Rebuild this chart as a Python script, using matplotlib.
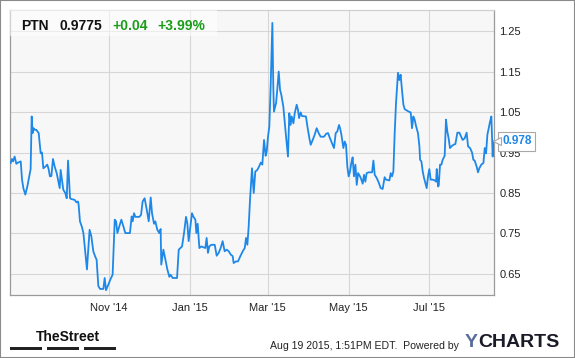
import matplotlib.pyplot as plt
import matplotlib.transforms as mtransforms
from matplotlib.patches import Rectangle
import pandas as pd

# PTN daily close (days after 2014-08-18)
start = pd.Timestamp("2014-08-18")

days = [
    0.5, 1.5, 2.3, 3.5, 4.8, 6.0, 8.1, 9.1, 10.1, 11.6, 13.1, 14.6, 15.6, 16.4, 17.1, 17.9,
    18.7, 19.9, 21.7, 23.2, 24.2, 25.2, 26.7, 28.2, 29.2, 30.2, 31.3, 32.5, 33.8, 35.3, 36.3,
    37.6, 38.3, 39.3, 40.3, 41.8, 42.9, 43.9, 45.4, 46.4, 48.9, 50.2, 51.4, 51.9, 52.9, 54.4,
    55.5, 56.5, 58.2, 59.0, 60.2, 61.5,
    63.0, 64.3, 65.5, 66.8, 68.1, 70.6, 71.6, 72.6, 74.4, 76.1, 77.6, 79.2, 80.2, 81.2, 82.7,
    84.2, 85.7, 87.2, 90.7, 92.0, 92.8, 93.8, 94.8, 97.8, 99.1, 100.3, 101.8, 103.4, 104.9,
    106.4, 107.4, 108.9, 109.9, 111.4, 112.9, 113.9, 114.4, 116.0, 117.5, 119.0, 120.5, 121.5,
    123.0, 124.8,
    126.3, 127.6, 128.8, 130.1, 131.6, 133.1, 134.1, 135.1, 136.4, 137.6, 138.6, 140.2, 140.9,
    141.9, 143.2, 144.7, 147.7, 148.7, 149.7, 150.7, 152.3, 154.8, 156.3, 157.8, 159.3, 160.8,
    162.3, 163.9, 165.4, 166.9, 168.4, 169.1, 170.9, 172.4, 174.2, 176.0, 177.5, 178.5, 179.5,
    180.5, 181.5, 183.0, 184.3, 185.5,
    187.0, 188.3, 189.6, 190.8, 192.1, 193.3, 194.1, 195.1, 196.1, 197.1, 198.4, 199.1, 199.6,
    201.2, 202.2, 203.2, 204.2, 205.2, 206.7, 208.5, 210.2, 211.2, 212.2, 213.0, 214.3, 215.3,
    216.8, 217.8, 218.6, 219.8, 220.8, 223.8, 224.9, 226.4, 227.4, 228.9, 230.4, 231.9, 233.4,
    234.9, 237.5, 239.0, 240.5, 242.0, 244.0, 245.0, 246.3, 247.5, 248.8,
    249.6, 250.6, 252.1, 253.1, 254.1, 255.1, 256.1, 257.1, 258.1, 259.1, 260.1, 261.2, 262.2,
    263.2, 264.7, 265.7, 266.7, 267.7, 268.7, 269.7, 271.2, 273.8, 274.8, 275.8, 277.3, 278.8,
    280.3, 281.8, 283.3, 284.3, 286.9, 287.9, 288.9, 289.9, 290.9, 291.9, 293.4, 294.4, 295.4,
    296.4, 297.5, 298.5, 300.0, 301.5, 303.0, 304.0, 305.0, 306.0, 307.0, 308.5, 309.6,
    310.1, 311.1, 312.1, 313.1, 314.1, 315.1, 316.1, 317.1, 318.1, 319.6, 321.2, 322.2, 322.7,
    323.7, 324.2, 325.2, 326.2, 327.2, 328.7, 329.7, 330.7, 331.7, 332.7, 333.8, 335.3, 336.8,
    338.3, 339.8, 341.3, 342.3, 343.8, 345.3, 346.4, 347.9, 349.4, 350.4, 351.4, 352.9, 353.9,
    354.9, 356.4, 358.0, 359.0, 360.0, 361.0, 362.0, 363.0, 364.0, 365.0, 365.5,
]

price = [
    0.924, 0.934, 0.928, 0.940, 0.922, 0.925, 0.928, 0.883, 0.862, 0.846, 0.866, 0.891, 0.909,
    1.039, 0.998, 1.010, 1.006, 1.006, 0.998, 0.948, 0.950, 0.911, 0.915, 0.920, 0.909, 0.891,
    0.892, 0.934, 0.915, 0.899, 0.883, 0.862, 0.907, 0.883, 0.858, 0.850, 0.837, 0.930, 0.837,
    0.835, 0.833, 0.827, 0.829, 0.821, 0.780, 0.766, 0.751, 0.718, 0.661, 0.702, 0.759, 0.743,
    0.706, 0.694, 0.685, 0.620, 0.613, 0.613, 0.640, 0.610, 0.624, 0.638, 0.648, 0.784, 0.780,
    0.751, 0.768, 0.784, 0.768, 0.751, 0.751, 0.792, 0.780, 0.800, 0.791, 0.791, 0.796, 0.829,
    0.837, 0.809, 0.780, 0.839, 0.800, 0.774, 0.780, 0.759, 0.751, 0.761, 0.673, 0.710, 0.685,
    0.661, 0.643, 0.648, 0.640, 0.640,
    0.640, 0.710, 0.714, 0.718, 0.751, 0.791, 0.775, 0.731, 0.768, 0.800, 0.792, 0.784, 0.751,
    0.774, 0.714, 0.718, 0.714, 0.739, 0.702, 0.718, 0.722, 0.722, 0.695, 0.702, 0.714, 0.731,
    0.706, 0.710, 0.706, 0.698, 0.694, 0.677, 0.681, 0.681, 0.694, 0.706, 0.714, 0.739, 0.722,
    0.768, 0.833, 0.911, 0.850, 0.903,
    0.907, 0.915, 0.925, 0.920, 0.981, 0.942, 0.952, 0.989, 1.014, 1.113, 1.270, 1.113, 1.051,
    1.072, 1.109, 1.150, 1.105, 1.092, 1.063, 0.998, 0.940, 1.047, 1.018, 1.039, 1.022, 1.047,
    1.068, 1.055, 1.035, 1.049, 1.040, 1.039, 1.014, 0.985, 0.969, 0.981, 0.994, 1.010, 0.998,
    0.989, 0.989, 0.996, 0.998, 0.985, 0.969, 0.961, 0.998, 1.002, 1.018,
    1.010, 0.994, 0.961, 0.977, 0.969, 0.915, 0.891, 0.903, 0.924, 0.938, 0.891, 0.920, 0.870,
    0.899, 0.891, 0.883, 0.873, 0.895, 0.878, 0.899, 0.901, 0.901, 0.930, 0.895, 0.887, 0.876,
    0.862, 0.860, 0.889, 0.883, 0.881, 0.899, 0.891, 0.903, 0.998, 1.072, 1.147, 1.129, 1.142,
    1.105, 1.068, 1.057, 1.054, 1.051, 1.049, 1.010, 1.039, 1.031, 1.016, 0.998, 0.965,
    0.932, 0.928, 0.903, 0.887, 0.874, 0.862, 0.891, 0.909, 0.883, 0.883, 0.881, 0.878, 0.909,
    0.866, 0.868, 0.920, 0.920, 0.932, 0.942, 1.031, 1.002, 0.985, 0.961, 0.965, 0.969, 0.971,
    0.999, 0.999, 0.988, 0.981, 0.985, 0.999, 0.965, 0.961, 0.950, 0.932, 0.930, 0.915, 0.901,
    0.911, 0.920, 0.924, 0.961, 0.948, 0.994, 1.010, 1.026, 1.039, 0.940, 0.9775,
]

ticker = "PTN"
last_price = "0.9775"
change = "+0.04"
change_pct = "+3.99%"
last_label = "0.978"
x_ticks = ["2014-11-01", "2015-01-01", "2015-03-01", "2015-05-01", "2015-07-01"]
x_tick_labels = ["Nov '14", "Jan '15", "Mar '15", "May '15", "Jul '15"]
y_ticks = [0.65, 0.75, 0.85, 0.95, 1.05, 1.15, 1.25]

dates = [start + pd.Timedelta(days=d) for d in days]

plt.rcParams["font.family"] = ["Liberation Sans", "DejaVu Sans"]

W, H = 575, 358
fig = plt.figure(figsize=(W / 100, H / 100), dpi=100)
fig.patch.set_facecolor("white")


def fx(px):
    return px / W


def fy(py):
    return 1 - py / H


ax = fig.add_axes([fx(10), fy(295), (494 - 10) / W, (295 - 10) / H])
ax.set_facecolor("#f7f7f7")

ax.plot(dates, price, color="#1e88e8", linewidth=1.3, zorder=4)

ax.set_xlim(start, start + pd.Timedelta(days=366))
ax.set_ylim(0.598, 1.302)

ax.set_xticks(pd.to_datetime(x_ticks))
ax.set_xticklabels(x_tick_labels)
ax.set_yticks(y_ticks)
ax.set_yticklabels([f"{v:.2f}" for v in y_ticks])
ax.yaxis.tick_right()
ax.tick_params(axis="both", length=0, labelsize=8, colors="#222222")
ax.tick_params(axis="y", pad=4)
ax.tick_params(axis="x", pad=6)
ax.grid(True, color="#d6d6d6", linewidth=0.8)
ax.set_axisbelow(True)
for s in ax.spines.values():
    s.set_color("#9a9a9a")
    s.set_linewidth(0.9)
ax.spines["top"].set_color("#d0d0d0")

# header box over the plot
ax.add_patch(Rectangle((0, 1 - 26 / 285), 207 / 484, 26 / 285, transform=ax.transAxes,
                       facecolor="white", alpha=0.55, edgecolor="none", zorder=5))
hy = fy(29.5)
fig.text(fx(21), hy, ticker, fontsize=10, fontweight="bold", color="#111111", va="baseline")
fig.text(fx(60), hy, last_price, fontsize=10, fontweight="bold", color="#111111", va="baseline")
fig.text(fx(112), hy, change, fontsize=10, fontweight="bold", color="#1a9e1a", va="baseline")
fig.text(fx(157), hy, change_pct, fontsize=10, fontweight="bold", color="#1a9e1a", va="baseline")

# last value marker on the right axis
trans = mtransforms.blended_transform_factory(ax.transAxes, ax.transData)
ax.text(1 + 8 / 484, price[-1], last_label, transform=trans, fontsize=8.5, fontweight="bold",
        color="#1e88e8", va="center", ha="left", zorder=6, clip_on=False,
        bbox=dict(boxstyle="square,pad=0.3", facecolor="white", edgecolor="#a8a8a8",
                  linewidth=0.8))
ax.plot([1 + 2.5 / 484], [price[-1]], transform=trans, marker="<", markersize=6,
        markerfacecolor="white", markeredgecolor="#a8a8a8", markeredgewidth=0.8,
        clip_on=False, zorder=7)

# footer
fig.text(fx(36), fy(341), "TheStreet", fontsize=10, fontweight="bold", color="#111111",
         va="baseline")
for x0 in [10, 47, 84]:
    fig.patches.append(Rectangle((fx(x0), fy(350)), 32 / W, 3 / H, transform=fig.transFigure,
                                 facecolor="#222222", edgecolor="none"))
fig.text(fx(459), fy(349), "Aug 19 2015, 1:51PM EDT.  Powered by", fontsize=7.6,
         color="#222222", ha="right", va="baseline")
fig.text(fx(465), fy(347), "Y", fontsize=14, fontweight="bold", color="#5a6b9c", va="baseline")
fig.text(fx(478), fy(347), "CHARTS", fontsize=14, fontweight="bold", color="#1a1a28",
         va="baseline")

# outer frame
fig.patches.append(Rectangle((0, 0), 1, 1, transform=fig.transFigure, fill=False,
                             edgecolor="#8a8a8a", linewidth=1.5))

fig.savefig("out.png", dpi=100)
